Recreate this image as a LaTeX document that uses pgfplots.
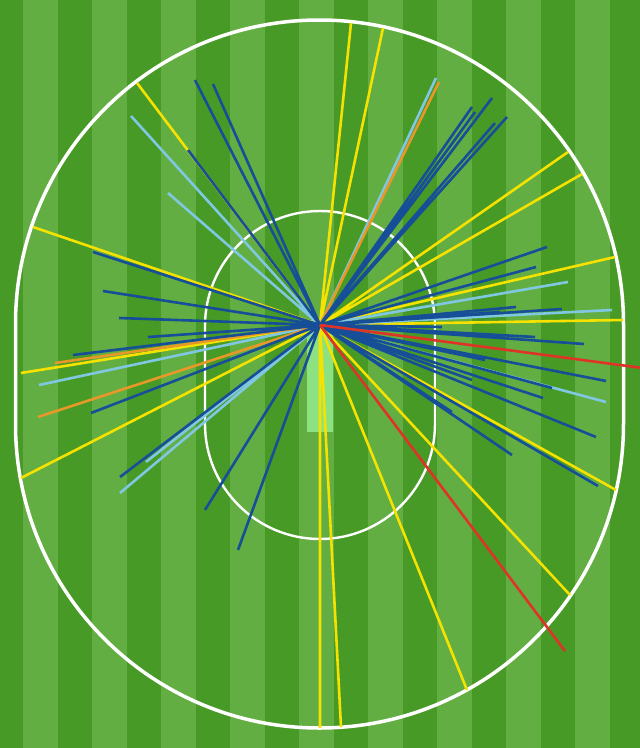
\documentclass[border=0pt]{standalone}
\usepackage{pgfplots}
\pgfplotsset{compat=1.18}
\definecolor{dkgreen}{RGB}{72,154,38}
\definecolor{ltgreen}{RGB}{99,174,66}
\definecolor{pitchc}{RGB}{140,226,128}
\definecolor{dblue}{RGB}{22,78,152}
\definecolor{lblue}{RGB}{128,200,226}
\definecolor{wyellow}{RGB}{245,226,0}
\definecolor{worange}{RGB}{232,152,40}
\definecolor{wred}{RGB}{222,52,40}
\begin{document}
\begin{tikzpicture}
\begin{axis}[scale only axis, width=640pt, height=748pt,
  xmin=0, xmax=640, ymin=0, ymax=748, y dir=reverse,
  hide axis, enlargelimits=false, clip=true,
  unbounded coords=jump,
  every axis plot/.append style={no marks, line width=2.6pt}]
% field stripes
\fill[dkgreen] (axis cs:0,0) rectangle (axis cs:640,748);
\fill[ltgreen] (axis cs:23,0) rectangle (axis cs:57.5,748);
\fill[ltgreen] (axis cs:92,0) rectangle (axis cs:126.5,748);
\fill[ltgreen] (axis cs:161,0) rectangle (axis cs:195.5,748);
\fill[ltgreen] (axis cs:230,0) rectangle (axis cs:264.5,748);
\fill[ltgreen] (axis cs:299,0) rectangle (axis cs:333.5,748);
\fill[ltgreen] (axis cs:368,0) rectangle (axis cs:402.5,748);
\fill[ltgreen] (axis cs:437,0) rectangle (axis cs:471.5,748);
\fill[ltgreen] (axis cs:506,0) rectangle (axis cs:540.5,748);
\fill[ltgreen] (axis cs:575,0) rectangle (axis cs:609.5,748);
% boundary and inner circle
\draw[white, line width=3.5pt] (axis cs:623.5,324) arc[start angle=0,end angle=180,radius=304pt]
  -- (axis cs:15.5,424) arc[start angle=180,end angle=360,radius=304pt] -- cycle;
\draw[white, line width=2.4pt] (axis cs:435,326) arc[start angle=0,end angle=180,radius=115pt]
  -- (axis cs:205,424) arc[start angle=180,end angle=360,radius=115pt] -- cycle;
% pitch
\fill[pitchc] (axis cs:307,320) rectangle (axis cs:333,432);
% yellow shots
\addplot[wyellow] coordinates {
(320,325) (137,83) (nan,nan)
(320,325) (33,227) (nan,nan)
(320,325) (21,373) (nan,nan)
(320,325) (21,478) (nan,nan)
(320,325) (351,23) (nan,nan)
(320,325) (383,28) (nan,nan)
(320,325) (568,152) (nan,nan)
(320,325) (582,174) (nan,nan)
(320,325) (615,257) (nan,nan)
(320,325) (623,320) (nan,nan)
(320,325) (616,490) (nan,nan)
(320,325) (570,595) (nan,nan)
(320,325) (467,690) (nan,nan)
(320,325) (341,727) (nan,nan)
(320,325) (320,728)
};
% light blue shots
\addplot[lblue] coordinates {
(320,325) (131,116) (nan,nan)
(320,325) (168,193) (nan,nan)
(320,325) (436,78) (nan,nan)
(320,325) (568,282) (nan,nan)
(320,325) (612,310) (nan,nan)
(320,325) (606,402) (nan,nan)
(320,325) (39,385) (nan,nan)
(320,325) (146,462) (nan,nan)
(320,325) (120,493)
};
% orange shots
\addplot[worange] coordinates {
(320,325) (439,82) (nan,nan)
(320,325) (55,363) (nan,nan)
(320,325) (38,417)
};
% dark blue shots
\addplot[dblue] coordinates {
(320,325) (188,150) (nan,nan)
(320,325) (195,80) (nan,nan)
(320,325) (213,84) (nan,nan)
(320,325) (93,252) (nan,nan)
(320,325) (103,291) (nan,nan)
(320,325) (119,318) (nan,nan)
(320,325) (148,337) (nan,nan)
(320,325) (73,355) (nan,nan)
(320,325) (91,413) (nan,nan)
(320,325) (120,477) (nan,nan)
(320,325) (205,510) (nan,nan)
(320,325) (238,550) (nan,nan)
(320,325) (472,107) (nan,nan)
(320,325) (475,112) (nan,nan)
(320,325) (492,98) (nan,nan)
(320,325) (495,123) (nan,nan)
(320,325) (507,117) (nan,nan)
(320,325) (547,247) (nan,nan)
(320,325) (536,267) (nan,nan)
(320,325) (516,307) (nan,nan)
(320,325) (500,312) (nan,nan)
(320,325) (562,309) (nan,nan)
(320,325) (442,327) (nan,nan)
(320,325) (535,337) (nan,nan)
(320,325) (584,344) (nan,nan)
(320,325) (485,360) (nan,nan)
(320,325) (472,380) (nan,nan)
(320,325) (606,381) (nan,nan)
(320,325) (552,388) (nan,nan)
(320,325) (543,398) (nan,nan)
(320,325) (452,412) (nan,nan)
(320,325) (596,437) (nan,nan)
(320,325) (512,455) (nan,nan)
(320,325) (598,486)
};
% red shots
\addplot[wred] coordinates {
(320,325) (650,369) (nan,nan)
(320,325) (565,651)
};
\end{axis}
\end{tikzpicture}
\end{document}
